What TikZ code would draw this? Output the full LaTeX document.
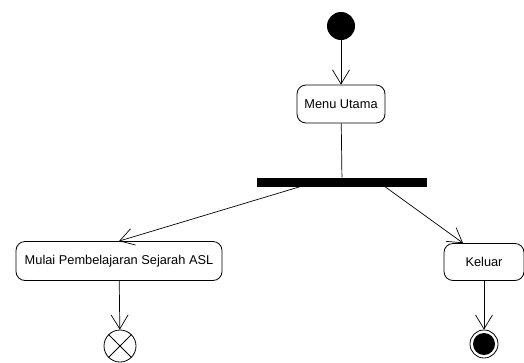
\documentclass[tikz,border=0pt]{standalone}
\usepackage{fontspec}
\setmainfont{Liberation Sans}
\usetikzlibrary{arrows.meta}

\begin{document}
\begin{tikzpicture}[x=1pt, y=-1pt, every node/.style={font=\fontsize{12.8}{14}\selectfont},
	activity/.style={draw, line width=0.8pt, rounded corners=9pt, align=center, inner sep=0pt},
	flow/.style={draw, line width=0.7pt, -{Straight Barb[length=14pt, width=17pt, line width=0.7pt]}}]
	\useasboundingbox (0,0) rectangle (524,362);
	\node[circle, fill=black, minimum size=28pt, inner sep=0pt] (start) at (341,26) {};
	\node[activity, minimum width=88pt, minimum height=38pt] (menu) at (341,104) {Menu Utama};
	\node[fill=black, minimum width=170pt, minimum height=9pt, inner sep=0pt] (bar) at (342,182) {};
	\node[activity, minimum width=206pt, minimum height=39pt] (mulai) at (119,261) {Mulai Pembelajaran Sejarah ASL};
	\node[activity, minimum width=80pt, minimum height=37pt] (keluar) at (484,262) {Keluar};
	\node[circle, draw, line width=0.8pt, minimum size=32pt, inner sep=0pt] (flowend) at (120,346) {};
	\draw[line width=0.8pt] (flowend.north west) -- (flowend.south east) (flowend.north east) -- (flowend.south west);
	\node[circle, draw, line width=0.8pt, minimum size=28pt, inner sep=0pt] (final) at (484,344) {};
	\fill (final) circle (11pt);
	% transitions
	\draw[flow] (start) -- (menu);
	\draw[line width=0.7pt] (menu) -- (bar);
	\draw[flow] ([xshift=-42pt]bar.south) -- (mulai.north);
	\draw[flow] ([xshift=43pt]bar.south) -- ([xshift=-21pt]keluar.north);
	\draw[flow] (mulai) -- (flowend);
	\draw[flow] (keluar) -- (final);
\end{tikzpicture}
\end{document}
